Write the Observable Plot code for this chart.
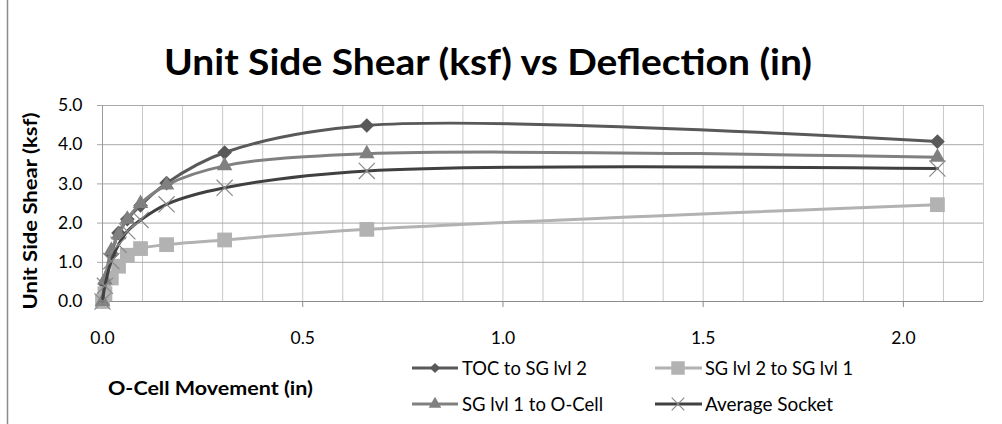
<!DOCTYPE html>
<html>
<head>
<meta charset="utf-8">
<script src="https://cdn.jsdelivr.net/npm/d3@7"></script>
<script src="https://cdn.jsdelivr.net/npm/@observablehq/plot@0.6"></script>
<style>
  html, body { margin: 0; padding: 0; background: #fff; }
  svg { display: block; }
</style>
</head>
<body>
<div id="chart"></div>
<script>
// ---- Data ----
const titleText = "Unit Side Shear (ksf) vs Deflection (in)";
const xLabel = "O-Cell Movement (in)";
const yLabel = "Unit Side Shear (ksf)";
const seriesNames = ["TOC to SG lvl 2", "SG lvl 2 to SG lvl 1", "SG lvl 1 to O-Cell", "Average Socket"];
const xMove      = [0, 0.006, 0.022, 0.04, 0.062, 0.095, 0.16, 0.305, 0.66, 2.085];
const tocToSG2   = [0, 0.45, 1.20, 1.75, 2.10, 2.45, 3.02, 3.80, 4.49, 4.08];
const sg2ToSG1   = [0, 0.20, 0.60, 0.90, 1.18, 1.35, 1.45, 1.57, 1.84, 2.47];
const sg1ToOCell = [0, 0.55, 1.30, 1.70, 2.10, 2.50, 2.97, 3.46, 3.77, 3.68];
const avgSocket  = [0, 0.40, 1.03, 1.45, 1.79, 2.08, 2.48, 2.90, 3.33, 3.39];
const xTicks = [0, 0.5, 1.0, 1.5, 2.0];
const xMinorGrid = [0.1, 0.2, 0.3, 0.4, 0.5, 0.6, 0.7, 0.8, 0.9, 1.0, 1.1, 1.2, 1.3, 1.4, 1.5, 1.6, 1.7, 1.8, 1.9, 2.0, 2.1, 2.2];
const yTicks = [0, 1, 2, 3, 4, 5];

const seriesValues = [tocToSG2, sg2ToSG1, sg1ToOCell, avgSocket];
const seriesStyle = [
  {line: "#595959", mark: "#595959", symbol: "diamond2",  r: 6.6, lr: 4.6, filled: true},
  {line: "#b2b2b2", mark: "#b2b2b2", symbol: "square2",   r: 9.4, lr: 8.6, filled: true},
  {line: "#808080", mark: "#808080", symbol: "triangle2", r: 7.4, lr: 6.0, filled: true},
  {line: "#404040", mark: "#8a8a8a", symbol: "times",     r: 7.4, lr: 5.8, filled: false}
];

const rows = seriesNames.map((name, k) => xMove.map((x, i) => ({series: name, x, y: seriesValues[k][i]})));

const seriesMarks = rows.flatMap((data, k) => {
  const st = seriesStyle[k];
  return [
    Plot.line(data, {x: "x", y: "y", stroke: st.line, strokeWidth: 3, curve: "catmull-rom"}),
    st.filled
      ? Plot.dot(data, {x: "x", y: "y", symbol: st.symbol, r: st.r, fill: st.mark, stroke: "none"})
      : Plot.dot(data, {x: "x", y: "y", symbol: st.symbol, r: st.r, fill: "none", stroke: st.mark, strokeWidth: 1.2})
  ];
});

const svg = Plot.plot({
  width: 1002,
  height: 424,
  marginLeft: 102,
  marginRight: 19,
  marginTop: 105,
  marginBottom: 123,
  style: {fontFamily: "Lato, 'Open Sans', sans-serif", fontSize: "17px", color: "#000", background: "#fff", overflow: "visible"},
  x: {domain: [0, 2.2]},
  y: {domain: [0, 5]},
  marks: [
    Plot.ruleX(xMinorGrid, {stroke: "#c8c8c8"}),
    Plot.ruleY(yTicks, {stroke: "#a8a8a8"}),
    Plot.ruleX([0], {stroke: "#9a9a9a"}),
    Plot.ruleY([0], {stroke: "#8c8c8c"}),
    Plot.axisX(xTicks, {tickSize: 6, tickPadding: 24, tickFormat: d => d.toFixed(1), stroke: "#8c8c8c", fill: "#000", fontSize: 17.5, label: null}),
    Plot.axisY(yTicks, {tickSize: 5, tickPadding: 15, tickFormat: d => d.toFixed(1), stroke: "#a8a8a8", fill: "#000", fontSize: 17.5, label: null}),
    ...seriesMarks
  ]
});

const s = d3.select(svg);
// chart-area left border
s.append("line").attr("x1", 7.5).attr("x2", 7.5).attr("y1", 0).attr("y2", 424)
  .attr("stroke", "#8c8c8c").attr("stroke-width", 1.5);
// title
s.append("text").attr("x", 488).attr("y", 75).attr("text-anchor", "middle")
  .attr("font-weight", "bold").attr("font-size", 37)
  .attr("textLength", 648).attr("lengthAdjust", "spacingAndGlyphs")
  .attr("fill", "#000").text(titleText);
// y label
s.append("text").attr("transform", "translate(37,211) rotate(-90)").attr("text-anchor", "middle")
  .attr("font-weight", "bold").attr("font-size", 18.5)
  .attr("textLength", 197).attr("lengthAdjust", "spacingAndGlyphs")
  .attr("fill", "#000").text(yLabel);
// x label
s.append("text").attr("x", 210.5).attr("y", 395).attr("text-anchor", "middle")
  .attr("font-weight", "bold").attr("font-size", 18.5)
  .attr("textLength", 205).attr("lengthAdjust", "spacingAndGlyphs")
  .attr("fill", "#000").text(xLabel);

// legend
const legendPos = [
  {x0: 412, x1: 458, mx: 435, tx: 462, cy: 368, by: 375, len: 125},
  {x0: 655, x1: 702, mx: 678, tx: 705, cy: 368, by: 375, len: 148},
  {x0: 412, x1: 458, mx: 435, tx: 462, cy: 404, by: 411, len: 141},
  {x0: 655, x1: 702, mx: 678, tx: 705, cy: 404, by: 411, len: 128}
];
const symbolMap = {diamond2: d3.symbolDiamond2, square2: d3.symbolSquare2, triangle2: d3.symbolTriangle2, times: d3.symbolTimes};
seriesNames.forEach((name, k) => {
  const p = legendPos[k], st = seriesStyle[k];
  const g = s.append("g");
  g.append("line").attr("x1", p.x0).attr("x2", p.x1).attr("y1", p.cy).attr("y2", p.cy)
    .attr("stroke", st.line).attr("stroke-width", 3);
  const path = g.append("path")
    .attr("transform", `translate(${p.mx},${p.cy})`)
    .attr("d", d3.symbol(symbolMap[st.symbol], Math.PI * st.lr * st.lr)());
  if (st.filled) path.attr("fill", st.mark);
  else path.attr("fill", "none").attr("stroke", st.mark).attr("stroke-width", 1.2);
  g.append("text").attr("x", p.tx).attr("y", p.by).attr("font-size", 18.5)
    .attr("text-anchor", "start")
    .attr("textLength", p.len).attr("lengthAdjust", "spacingAndGlyphs")
    .attr("fill", "#000").text(name);
});

document.getElementById("chart").append(svg);
</script>
</body>
</html>
